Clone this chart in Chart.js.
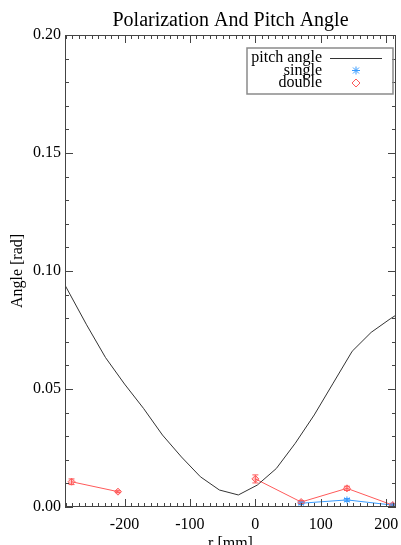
<!DOCTYPE html>
<html>
<head>
<meta charset="utf-8">
<script src="https://cdn.jsdelivr.net/npm/chart.js@4"></script>
<style>
  html, body { margin: 0; padding: 0; background: #fff; }
  #wrap { width: 401px; height: 545px; }
</style>
</head>
<body>
<div id="wrap"><canvas id="chart" width="401" height="545"></canvas></div>
<script>
// pitch angle curve
const pitchR = [-291, -258, -229, -200, -171, -142, -113, -84, -55, -26, 3, 32, 61, 90, 119, 148, 177, 206, 215];
const pitchVal = [0.094, 0.0772, 0.0633, 0.0521, 0.0418, 0.0305, 0.0212, 0.0128, 0.0072, 0.0051, 0.0093, 0.0163, 0.027, 0.039, 0.0525, 0.066, 0.074, 0.0797, 0.0813];

// single method
const singleR = [70, 140, 210];
const singleVal = [0.0016, 0.003, 0.0008];
const singleErr = [0.0005, 0.0006, 0.0004];

// double method (null = break in line)
const doubleR = [-281, -210, -100, 0, 70, 140, 210];
const doubleVal = [0.0107, 0.0065, null, 0.0119, 0.0021, 0.0079, 0.0008];
const doubleErr = [0.0012, 0.0004, 0, 0.0017, 0.0006, 0.0009, 0.0005];

const xTicks = [-200, -100, 0, 100, 200];
const xMin = -291, xMax = 215;
const yMin = 0, yMax = 0.2;

const serif = '"Liberation Serif", "DejaVu Serif", serif';
const axisCol = '#444';
const redCol = '#ff5a5a';
const blueCol = '#3a9cff';

function pts(xs, ys) {
  return xs.map((x, i) => ({ x: x, y: ys[i] }));
}

// error bars + IDL-style inside ticks + frame + legend
const idlAxes = {
  id: 'idlAxes',
  afterDatasetsDraw(chart) {
    const ctx = chart.ctx;
    const xs = chart.scales.x, ys = chart.scales.y;
    [[doubleR, doubleVal, doubleErr, redCol], [singleR, singleVal, singleErr, blueCol]].forEach(([rr, vv, ee, col]) => {
      ctx.save();
      ctx.strokeStyle = col;
      ctx.lineWidth = 1;
      rr.forEach((r, i) => {
        if (vv[i] == null || !ee[i]) return;
        const px = xs.getPixelForValue(r);
        const y1 = ys.getPixelForValue(vv[i] - ee[i]);
        const y2 = ys.getPixelForValue(vv[i] + ee[i]);
        ctx.beginPath();
        ctx.moveTo(px, y1); ctx.lineTo(px, y2);
        ctx.moveTo(px - 3, y1); ctx.lineTo(px + 3, y1);
        ctx.moveTo(px - 3, y2); ctx.lineTo(px + 3, y2);
        ctx.stroke();
      });
      ctx.restore();
    });
  },
  afterDraw(chart) {
    const ctx = chart.ctx;
    const a = chart.chartArea;
    const xs = chart.scales.x, ys = chart.scales.y;
    ctx.save();
    ctx.strokeStyle = axisCol;
    ctx.lineWidth = 1;
    ctx.strokeRect(a.left + 0.5, a.top + 0.5, a.right - a.left - 1, a.bottom - a.top - 1);
    ctx.beginPath();
    for (let v = -290; v <= xMax; v += 10) {
      const px = Math.round(xs.getPixelForValue(v)) + 0.5;
      const len = v % 100 === 0 ? 8 : 4;
      ctx.moveTo(px, a.bottom); ctx.lineTo(px, a.bottom - len);
      ctx.moveTo(px, a.top); ctx.lineTo(px, a.top + len);
    }
    for (let k = 0; k <= 20; k++) {
      const py = Math.round(ys.getPixelForValue(k * 0.01)) + 0.5;
      const len = k % 5 === 0 ? 8 : 4;
      ctx.moveTo(a.left, py); ctx.lineTo(a.left + len, py);
      ctx.moveTo(a.right, py); ctx.lineTo(a.right - len, py);
    }
    ctx.stroke();

    // legend
    const bx = 247, by = 48, bw = 146, bh = 46;
    ctx.strokeStyle = '#8a8a8a';
    ctx.lineWidth = 1.5;
    ctx.strokeRect(bx, by, bw, bh);
    ctx.font = '16px ' + serif;
    ctx.fillStyle = '#000';
    ctx.textAlign = 'right';
    ctx.textBaseline = 'alphabetic';
    ctx.fillText('pitch angle', 322, 62);
    ctx.fillText('single', 322, 74.5);
    ctx.fillText('double', 322, 87);
    ctx.strokeStyle = '#333';
    ctx.lineWidth = 1;
    ctx.beginPath();
    ctx.moveTo(330, 58.5); ctx.lineTo(382, 58.5);
    ctx.stroke();
    ctx.strokeStyle = blueCol;
    ctx.beginPath();
    const sx = 356, sy = 70.5, r = 4;
    ctx.moveTo(sx - r, sy); ctx.lineTo(sx + r, sy);
    ctx.moveTo(sx, sy - r); ctx.lineTo(sx, sy + r);
    ctx.moveTo(sx - 3, sy - 3); ctx.lineTo(sx + 3, sy + 3);
    ctx.moveTo(sx - 3, sy + 3); ctx.lineTo(sx + 3, sy - 3);
    ctx.stroke();
    ctx.strokeStyle = redCol;
    ctx.beginPath();
    const dx = 356, dy = 83;
    ctx.moveTo(dx, dy - 4); ctx.lineTo(dx + 4, dy); ctx.lineTo(dx, dy + 4); ctx.lineTo(dx - 4, dy); ctx.closePath();
    ctx.stroke();
    ctx.restore();
  }
};

new Chart(document.getElementById('chart'), {
  type: 'line',
  data: {
    datasets: [
      {
        label: 'pitch angle',
        data: pts(pitchR, pitchVal),
        borderColor: '#333',
        borderWidth: 1,
        pointRadius: 0,
        tension: 0
      },
      {
        label: 'double',
        data: pts(doubleR, doubleVal),
        borderColor: redCol,
        backgroundColor: 'rgba(255,90,90,0.35)',
        borderWidth: 1,
        pointStyle: 'rectRot',
        pointRadius: 3.5,
        pointBorderWidth: 1,
        spanGaps: false,
        tension: 0
      },
      {
        label: 'single',
        data: pts(singleR, singleVal),
        borderColor: blueCol,
        backgroundColor: blueCol,
        borderWidth: 1,
        pointStyle: 'star',
        pointRadius: 3.5,
        pointBorderWidth: 1,
        tension: 0
      }
    ]
  },
  options: {
    responsive: false,
    animation: false,
    layout: { padding: { left: 0, right: 1, top: 0, bottom: 0 } },
    plugins: {
      legend: { display: false },
      tooltip: { enabled: false },
      title: {
        display: true,
        text: 'Polarization And Pitch Angle',
        fullSize: false,
        color: '#000',
        font: { family: serif, size: 20, weight: 'normal' },
        padding: { top: 9, bottom: 2 }
      }
    },
    scales: {
      x: {
        type: 'linear',
        min: xMin,
        max: xMax,
        afterBuildTicks: (s) => { s.ticks = xTicks.map(v => ({ value: v })); },
        afterFit: (s) => { s.height = 38; s.paddingLeft = 0; s.paddingRight = 0; },
        grid: { display: false, drawTicks: false },
        border: { display: false },
        ticks: {
          color: '#000',
          font: { family: serif, size: 16 },
          padding: 8,
          maxRotation: 0,
          callback: (v) => String(v)
        },
        title: {
          display: true,
          text: 'r [mm]',
          color: '#000',
          font: { family: serif, size: 16 },
          padding: { top: 0, bottom: -8 }
        }
      },
      y: {
        type: 'linear',
        min: yMin,
        max: yMax,
        afterFit: (s) => { s.width = 65; s.paddingTop = 0; s.paddingBottom = 0; },
        grid: { display: false, drawTicks: false },
        border: { display: false },
        ticks: {
          stepSize: 0.05,
          color: '#000',
          font: { family: serif, size: 16 },
          padding: 4,
          callback: (v) => Number(v).toFixed(2)
        },
        title: {
          display: true,
          text: 'Angle [rad]',
          color: '#000',
          font: { family: serif, size: 16 },
          padding: { top: 8, bottom: 0 }
        }
      }
    }
  },
  plugins: [idlAxes]
});
</script>
</body>
</html>
